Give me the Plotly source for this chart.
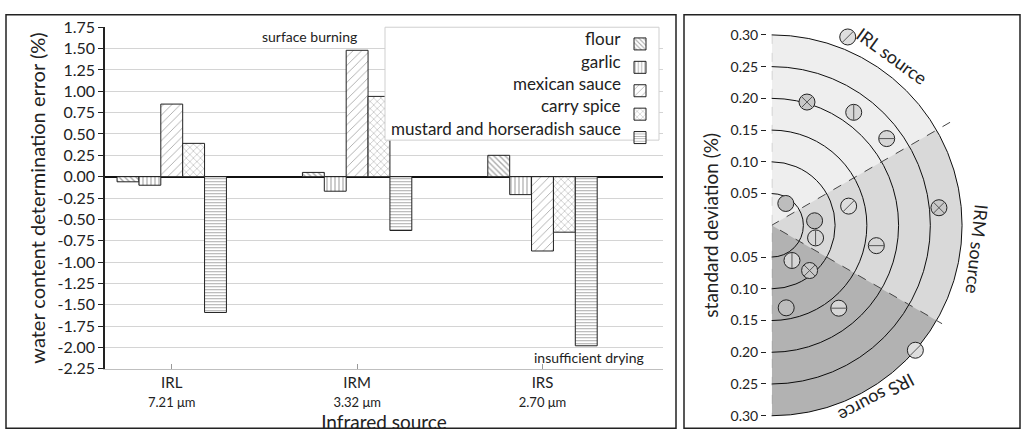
import plotly.graph_objects as go

# ---------------- data: left panel (bar chart) ----------------
CATEGORIES = ["IRL", "IRM", "IRS"]
WAVELENGTHS = ["7.21 μm", "3.32 μm", "2.70 μm"]
PRODUCTS = ["flour", "garlic", "mexican sauce", "carry spice", "mustard and horseradish sauce"]
ERR_FLOUR = [-0.06, 0.05, 0.25]
ERR_GARLIC = [-0.10, -0.17, -0.21]
ERR_MEXICAN = [0.85, 1.48, -0.87]
ERR_CARRY = [0.39, 0.94, -0.65]
ERR_MUSTARD = [-1.59, -0.63, -1.98]
Y_TICKS = [1.75, 1.50, 1.25, 1.00, 0.75, 0.50, 0.25, 0.00, -0.25, -0.50,
           -0.75, -1.00, -1.25, -1.50, -1.75, -2.00, -2.25]

# ---------------- data: right panel (standard deviation) ----------------
SECTORS = ["IRL source", "IRM source", "IRS source"]
SECTOR_CENTERS = [60, 0, -60]
SECTOR_WIDTH = [60, 60, 60]
SECTOR_EDGES = [30, -30]
SD_FLOUR = [0.041, 0.068, 0.132]
SD_GARLIC = [0.220, 0.072, 0.064]
SD_MEXICAN = [0.320, 0.125, 0.300]
SD_CARRY = [0.202, 0.265, 0.093]
SD_MUSTARD = [0.227, 0.168, 0.168]
ANG_FLOUR = [57, 6, -80]
ANG_GARLIC = [54, -16, -60]
ANG_MEXICAN = [68, 14, -41]
ANG_CARRY = [74, 6, -50]
ANG_MUSTARD = [37, -11, -51]
RINGS = [0.05, 0.10, 0.15, 0.20, 0.25, 0.30]
SD_MAX = 0.30
SD_TICKS = [0.30, 0.25, 0.20, 0.15, 0.10, 0.05, -0.05, -0.10, -0.15, -0.20, -0.25, -0.30]

W, H = 1025, 441
FONT = "Lato"


def px(x):
    return x / W


def py(y):
    return (H - y) / H


fig = go.Figure()

errs = [ERR_FLOUR, ERR_GARLIC, ERR_MEXICAN, ERR_CARRY, ERR_MUSTARD]
patterns = [
    dict(shape="\\", size=4, solidity=0.35),
    dict(shape="|", size=4, solidity=0.3),
    dict(shape="/", size=6, solidity=0.15),
    dict(shape="x", size=5, solidity=0.2),
    dict(shape="-", size=3, solidity=0.35),
]
for name, vals, pat in zip(PRODUCTS, errs, patterns):
    # legend swatch only (text drawn right-aligned as annotation, as in the original)
    fig.add_trace(go.Bar(
        x=CATEGORIES, y=vals, name="", legendgroup=name,
        hovertemplate=name + ": %{y:.2f}<extra></extra>",
        marker=dict(color="white", line=dict(color="#222", width=1),
                    pattern=dict(fgcolor="#555", bgcolor="white", **pat)),
        xaxis="x", yaxis="y",
    ))

# ---------------- right panel ----------------
# polar geometry: centre (767, 225) px, 0.30 -> 199 px
CX, CY, R30 = 767, 225, 199
R_RANGE = 0.325
R_PX = R30 * R_RANGE / SD_MAX

fig.add_trace(go.Barpolar(
    r=[SD_MAX] * 3, theta=SECTOR_CENTERS, width=SECTOR_WIDTH,
    marker=dict(color=["rgba(0,0,0,0.065)", "rgba(0,0,0,0.15)", "rgba(0,0,0,0.30)"],
                line=dict(width=0)),
    showlegend=False, subplot="polar", hoverinfo="skip",
))
# dashed sector boundaries
fig.add_trace(go.Scatterpolar(
    r=[R_RANGE, 0, 0.31], theta=[SECTOR_EDGES[0], 0, SECTOR_EDGES[1]], mode="lines",
    line=dict(color="#444", width=1, dash="dash"), cliponaxis=False,
    showlegend=False, subplot="polar", hoverinfo="skip",
))
fig.add_trace(go.Scatterpolar(
    r=[SD_MAX, 0, SD_MAX], theta=[90, 0, -90], mode="lines",
    line=dict(color="#777", width=1, dash="dash"), cliponaxis=False,
    showlegend=False, subplot="polar", hoverinfo="skip",
))

sds = [SD_FLOUR, SD_GARLIC, SD_MEXICAN, SD_CARRY, SD_MUSTARD]
angs = [ANG_FLOUR, ANG_GARLIC, ANG_MEXICAN, ANG_CARRY, ANG_MUSTARD]
fills = ["#bdbdbd", "#d6d6d6", "#dedede", "#c8c8c8", "#d6d6d6"]
overlays = [None, "line-ns", "line-ne", "x-thin", "line-ew"]
for name, r, th, fc, ov in zip(PRODUCTS, sds, angs, fills, overlays):
    fig.add_trace(go.Scatterpolar(
        r=r, theta=th, mode="markers", name=name, cliponaxis=False,
        marker=dict(symbol="circle", size=16, color=fc, line=dict(color="#222", width=1)),
        showlegend=False, subplot="polar",
    ))
    if ov:
        fig.add_trace(go.Scatterpolar(
            r=r, theta=th, mode="markers", cliponaxis=False,
            marker=dict(symbol=ov, size=11, line=dict(color="#555", width=1)),
            showlegend=False, subplot="polar", hoverinfo="skip",
        ))

# invisible trace so the cartesian label axis is drawn
fig.add_trace(go.Scatter(x=[], y=[], xaxis="x2", yaxis="y2", showlegend=False))


def note(text, x, y, size, angle=0, xanchor="center"):
    return dict(text=text, x=px(x), y=py(y), xref="paper", yref="paper",
                xanchor=xanchor, yanchor="middle", showarrow=False,
                textangle=angle, font=dict(size=size))


LEG_TOP, LEG_STEP = 30, 23.4
annotations = [note(p, 623, LEG_TOP + LEG_STEP * i, 17, xanchor="right")
               for i, p in enumerate(PRODUCTS)]
annotations += [
    note("surface burning", 309, 28, 14),
    note("insufficient drying", 589, 363, 14),
    note(SECTORS[0], 892, 48, 18, 36),
    note(SECTORS[1], 977, 250, 18, 96),
    note(SECTORS[2], 877, 406, 18, 152),
]

fig.update_layout(
    width=W, height=H,
    margin=dict(l=0, r=0, t=0, b=0),
    paper_bgcolor="white", plot_bgcolor="white",
    font=dict(family=FONT, color="#222", size=14),
    barmode="group", bargap=0.41, bargroupgap=0,
    xaxis=dict(
        domain=[px(105), px(663)], type="category", range=[-0.36, 2.65],
        tickmode="array", tickvals=CATEGORIES,
        ticktext=[f"{c}<br><span style='font-size:13px'>{w}</span>" for c, w in zip(CATEGORIES, WAVELENGTHS)],
        tickfont=dict(size=15),
        ticks="inside", ticklen=5, tickcolor="#999",
        showline=True, linecolor="#bfbfbf", linewidth=1, showgrid=False,
        title=dict(text="Infrared source", font=dict(size=19), standoff=2),
        anchor="y",
    ),
    yaxis=dict(
        domain=[py(375), py(18)], range=[-2.25, 1.75],
        tickmode="array", tickvals=Y_TICKS, ticktext=[f"{v:.2f}" for v in Y_TICKS],
        tickfont=dict(size=16),
        ticks="outside", ticklen=5, tickcolor="#222",
        showline=True, linecolor="#222", linewidth=1.5,
        gridcolor="#d4d4d4", gridwidth=1,
        zeroline=True, zerolinecolor="#111", zerolinewidth=1.5,
        title=dict(text="water content determination error (%)", font=dict(size=20), standoff=6),
        anchor="x",
    ),
    xaxis2=dict(domain=[px(CX), px(CX + R30)], range=[0, 1], visible=False, anchor="y2"),
    yaxis2=dict(
        domain=[py(CY + R30), py(CY - R30)], range=[-SD_MAX, SD_MAX], anchor="x2",
        tickmode="array", tickvals=SD_TICKS, ticktext=[f"{abs(v):.2f}" for v in SD_TICKS],
        tickfont=dict(size=14),
        ticks="outside", ticklen=5, tickcolor="#222",
        showline=False, showgrid=False, zeroline=False,
        title=dict(text="standard deviation (%)", font=dict(size=19), standoff=6),
    ),
    polar=dict(
        domain=dict(x=[px(CX), px(CX + R_PX)], y=[py(CY + R_PX), py(CY - R_PX)]),
        sector=[-90, 90], bgcolor="white", bargap=0,
        radialaxis=dict(range=[0, R_RANGE], tickvals=RINGS, showticklabels=False, ticks="",
                        gridcolor="#111", gridwidth=1, showline=False),
        angularaxis=dict(showgrid=False, showticklabels=False, ticks="",
                         showline=False, rotation=0, direction="counterclockwise"),
    ),
    legend=dict(
        x=px(620), y=py(18), xanchor="left", yanchor="top",
        borderwidth=0, bgcolor="rgba(0,0,0,0)",
        font=dict(size=15.7), traceorder="normal",
    ),
    annotations=annotations,
    shapes=[
        dict(type="rect", xref="paper", yref="paper", x0=px(385), x1=px(659), y0=py(136), y1=py(18),
             line=dict(color="#cfcfcf", width=1), fillcolor="white", layer="above"),
        dict(type="rect", xref="paper", yref="paper", x0=px(6), x1=px(676), y0=py(437), y1=py(5),
             line=dict(color="#222", width=1.5)),
        dict(type="rect", xref="paper", yref="paper", x0=px(684), x1=px(1020), y0=py(437), y1=py(5),
             line=dict(color="#222", width=1.5)),
    ],
)

fig.write_html("out.html")
